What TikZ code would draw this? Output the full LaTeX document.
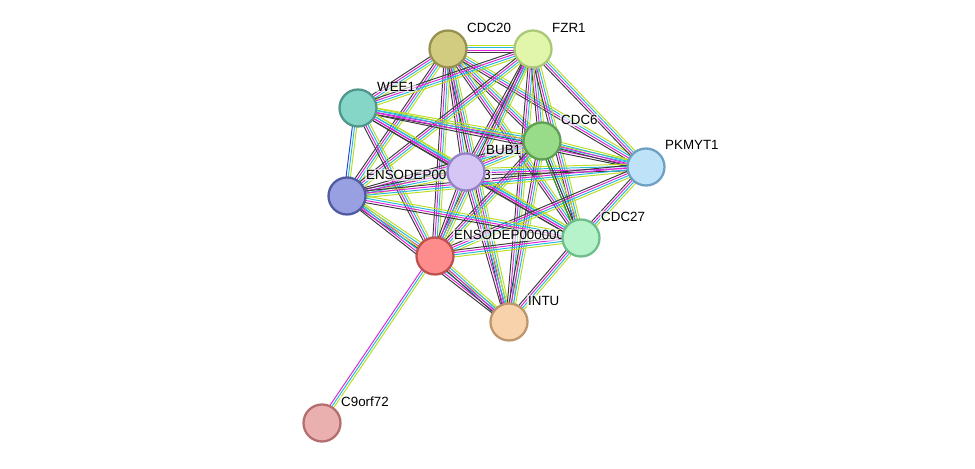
\documentclass[tikz,border=0pt]{standalone}
\usepackage{fontspec}
\setmainfont{Liberation Sans}
\usetikzlibrary{calc,backgrounds}
\definecolor{ekg}{HTML}{3C3C3C}
\definecolor{emg}{HTML}{DD22DD}
\definecolor{ecy}{HTML}{22BBDD}
\definecolor{eyl}{HTML}{BBDD22}
\definecolor{egr}{HTML}{22AA22}
\definecolor{ebl}{HTML}{2244DD}
\newcommand\lnk[3]{%
  \foreach \c [count=\i] in {#3} {
    \pgfmathsetmacro\off{(\i-2.5)*1.25}
    \draw[\c, line width=0.55pt] ($(#1.center)!\off pt!90:(#2.center)$) -- ($(#2.center)!\off pt!-90:(#1.center)$);
  }}
\begin{document}
\begin{tikzpicture}[x=0.02cm,y=-0.02cm]
  \tikzset{prot/.style={circle, line width=1.3pt, minimum size=0.74cm, inner sep=0pt},
           plabel/.style={anchor=west, font=\fontsize{7.6}{9}\selectfont, inner sep=0.5pt, fill=white, fill opacity=0.6, text opacity=1}}
  \useasboundingbox (0,0) rectangle (975,469);
  % proteins
  \node[prot, fill={rgb,255:red,210;green,204;blue,128}, draw={rgb,255:red,150;green,145;blue,80}] (cdc20) at (448,49) {};
  \node[prot, fill={rgb,255:red,225;green,246;blue,170}, draw={rgb,255:red,170;green,200;blue,120}] (fzr1) at (533,49) {};
  \node[prot, fill={rgb,255:red,134;green,214;blue,200}, draw={rgb,255:red,80;green,150;blue,140}] (wee1) at (358,108) {};
  \node[prot, fill={rgb,255:red,152;green,220;blue,138}, draw={rgb,255:red,95;green,160;blue,85}] (cdc6) at (542,141) {};
  \node[prot, fill={rgb,255:red,214;green,198;blue,246}, draw={rgb,255:red,150;green,130;blue,200}] (bub1) at (466,172) {};
  \node[prot, fill={rgb,255:red,190;green,226;blue,248}, draw={rgb,255:red,110;green,160;blue,195}] (pkmyt1) at (646,167) {};
  \node[prot, fill={rgb,255:red,152;green,160;blue,226}, draw={rgb,255:red,80;green,90;blue,160}] (ens13) at (347,196) {};
  \node[prot, fill={rgb,255:red,182;green,242;blue,202}, draw={rgb,255:red,110;green,190;blue,140}] (cdc27) at (581,238) {};
  \node[prot, fill={rgb,255:red,255;green,140;blue,140}, draw={rgb,255:red,190;green,80;blue,80}] (ens1) at (435,256) {};
  \node[prot, fill={rgb,255:red,248;green,210;blue,170}, draw={rgb,255:red,190;green,150;blue,110}] (intu) at (509,322) {};
  \node[prot, fill={rgb,255:red,234;green,176;blue,176}, draw={rgb,255:red,180;green,110;blue,110}] (c9) at (322,423) {};
  \begin{pgfonlayer}{background}
    % interactions
    \foreach \a/\b in {cdc20/fzr1,cdc20/wee1,cdc20/cdc6,cdc20/bub1,cdc20/pkmyt1,cdc20/ens13,cdc20/cdc27,cdc20/ens1,cdc20/intu,
                       fzr1/wee1,fzr1/cdc6,fzr1/bub1,fzr1/pkmyt1,fzr1/ens13,fzr1/cdc27,fzr1/ens1,fzr1/intu,
                       wee1/cdc6,wee1/bub1,wee1/pkmyt1,wee1/cdc27,wee1/ens1,
                       cdc6/bub1,cdc6/pkmyt1,cdc6/ens13,cdc6/cdc27,cdc6/ens1,cdc6/intu,
                       bub1/pkmyt1,bub1/ens13,bub1/cdc27,bub1/ens1,bub1/intu,
                       pkmyt1/ens13,pkmyt1/cdc27,pkmyt1/ens1,
                       ens13/cdc27,ens13/ens1,ens13/intu,
                       cdc27/ens1,cdc27/intu,ens1/intu}
      {\lnk{\a}{\b}{ekg,emg,ecy,eyl}}
    \lnk{wee1}{ens13}{ebl,ecy,eyl}
    \lnk{cdc6}{cdc27}{egr,ekg}
    \lnk{ens1}{c9}{emg,ecy,eyl}
    % labels
    \node[plabel] at (466,28) {CDC20};
    \node[plabel] at (551,28) {FZR1};
    \node[plabel] at (376,87) {WEE1};
    \node[plabel] at (560,120) {CDC6};
    \node[plabel] at (485,150) {BUB1};
    \node[plabel] at (664,145) {PKMYT1};
    \node[plabel] at (365,175) {ENSODEP00000013};
    \node[plabel] at (600,217) {CDC27};
    \node[plabel] at (453,235) {ENSODEP000000017};
    \node[plabel] at (527,301) {INTU};
    \node[plabel] at (340,402) {C9orf72};
  \end{pgfonlayer}
\end{tikzpicture}
\end{document}
